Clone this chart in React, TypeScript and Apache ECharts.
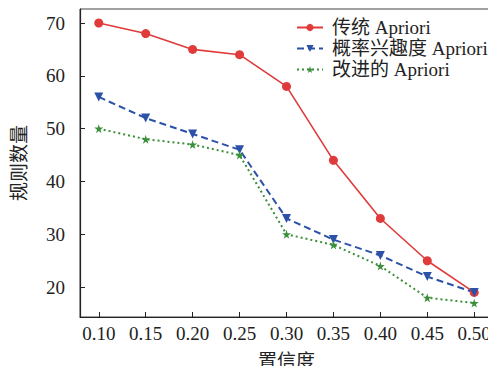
import React, { useEffect, useRef } from "react";
import * as echarts from "echarts";

const confidence = [0.1, 0.15, 0.2, 0.25, 0.3, 0.35, 0.4, 0.45, 0.5];
const traditional = [70, 68, 65, 64, 58, 44, 33, 25, 19];
const interest = [56, 52, 49, 46, 33, 29, 26, 22, 19];
const improved = [50, 48, 47, 45, 30, 28, 24, 18, 17];
const yTicks = [20, 30, 40, 50, 60, 70];
const seriesNames = ["传统 Apriori", "概率兴趣度 Apriori", "改进的 Apriori"];

const FONT = "'Liberation Serif', 'Noto Sans CJK SC', serif";

export default function App() {
  const ref = useRef<HTMLDivElement>(null);
  useEffect(() => {
    if (!ref.current) return;
    const chart = echarts.init(ref.current, undefined, { renderer: "svg" });
    const pair = (ys: number[]) => confidence.map((x, i) => [x, ys[i]]);
    chart.setOption({
      animation: false,
      textStyle: { fontFamily: FONT, color: "#222" },
      grid: {
        left: 80,
        right: 3,
        top: 9,
        bottom: 57,
        show: true,
        borderColor: "#444",
        borderWidth: 1,
        containLabel: false,
        outerBoundsMode: "none",
      },
      legend: {
        orient: "vertical",
        left: 291,
        top: 13,
        itemWidth: 26,
        itemHeight: 9,
        itemGap: 2,
        textStyle: { fontFamily: FONT, fontSize: 19, color: "#222", padding: [0, 0, 0, 4] },
        data: seriesNames,
      },
      xAxis: {
        type: "value",
        min: 0.08,
        max: 0.52,
        name: "置信度",
        nameLocation: "middle",
        nameGap: 35,
        nameTextStyle: { fontFamily: FONT, fontSize: 19, color: "#222" },
        axisLine: { show: true, lineStyle: { color: "#222", width: 1.2 } },
        axisTick: { show: true, inside: true, length: 5, customValues: confidence, lineStyle: { color: "#222" } },
        axisLabel: {
          customValues: confidence,
          formatter: (v: number) => v.toFixed(2),
          fontFamily: FONT,
          fontSize: 19,
          color: "#222",
          margin: 7,
        },
        splitLine: { show: false },
      },
      yAxis: {
        type: "value",
        min: 14.35,
        max: 72.65,
        name: "规则数量",
        nameLocation: "middle",
        nameGap: 51,
        nameRotate: 90,
        nameTextStyle: { fontFamily: FONT, fontSize: 19, color: "#222" },
        axisLine: { show: true, lineStyle: { color: "#222", width: 1.2 } },
        axisTick: { show: true, inside: true, length: 5, customValues: yTicks, lineStyle: { color: "#222" } },
        axisLabel: {
          customValues: yTicks,
          fontFamily: FONT,
          fontSize: 19,
          color: "#222",
          margin: 15,
        },
        splitLine: { show: false },
      },
      series: [
        {
          name: seriesNames[0],
          type: "line",
          data: pair(traditional),
          symbol: "circle",
          symbolSize: 9,
          itemStyle: { color: "#e03a3a" },
          lineStyle: { color: "#e03a3a", width: 1.6, type: "solid" },
        },
        {
          name: seriesNames[1],
          type: "line",
          data: pair(interest),
          symbol: "triangle",
          symbolRotate: 180,
          symbolSize: 9,
          itemStyle: { color: "#2b52a8" },
          lineStyle: { color: "#2b52a8", width: 2, type: [7, 4] },
        },
        {
          name: seriesNames[2],
          type: "line",
          data: pair(improved),
          symbol: "path://M50,0 L61,35 L98,35 L68,57 L79,91 L50,70 L21,91 L32,57 L2,35 L39,35 Z",
          symbolSize: 9,
          itemStyle: { color: "#3a8f3a" },
          lineStyle: { color: "#3a8f3a", width: 2, type: [2, 3] },
        },
      ],
    });
    return () => chart.dispose();
  }, []);
  return <div ref={ref} style={{ width: 496, height: 374, margin: -8 }} />;
}
